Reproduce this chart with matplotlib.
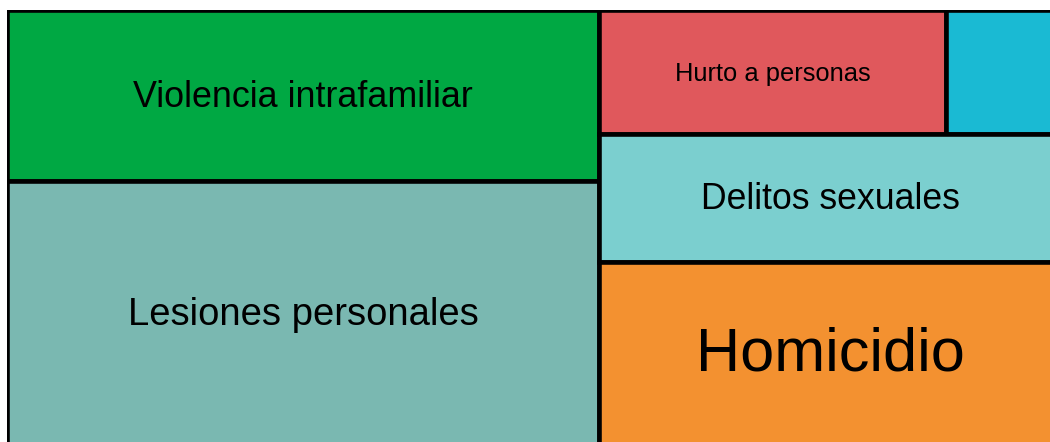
import matplotlib
matplotlib.use("Agg")
import matplotlib.pyplot as plt
import matplotlib.transforms as mtransforms
from matplotlib.patches import Rectangle

labels = ["Violencia intrafamiliar", "Lesiones personales", "Hurto a personas",
          "", "Delitos sexuales", "Homicidio"]
values = [1006, 1551, 426, 143, 587, 841]
colors = ["#00A843", "#7AB8B1", "#E0585C", "#1ABAD3", "#7BCFCF", "#F39130"]
font_sizes = [25.8, 27.5, 18.4, 18, 25.7, 44]

# tile arrangement: columns -> rows -> cells (indices into the lists above)
layout = [
    [[0], [1]],
    [[2, 3], [4], [5]],
]

fig = plt.figure(figsize=(10.5, 4.42), dpi=100)
ax = fig.add_axes([7 / 1050, -3 / 442, 1055 / 1050, 435 / 442])
total = sum(values)
ax.set_xlim(0, 1)
ax.set_ylim(1, 0)
ax.axis("off")
# nudge labels a little below the geometric centre
text_tr = mtransforms.offset_copy(ax.transData, fig=fig, x=0, y=-2, units="dots")

# slice-and-dice layout
x0 = 0.0
for col in layout:
    col_sum = sum(values[i] for row in col for i in row)
    w = col_sum / total
    y0 = 0.0
    for row in col:
        row_sum = sum(values[i] for i in row)
        h = row_sum / col_sum
        cx = x0
        for i in row:
            cw = w * values[i] / row_sum
            ax.add_patch(Rectangle((cx, y0), cw, h, facecolor=colors[i],
                                   edgecolor="black", linewidth=3.3))
            if labels[i]:
                ax.text(cx + cw / 2, y0 + h / 2, labels[i], ha="center",
                        va="center", fontsize=font_sizes[i], transform=text_tr,
                        family="Liberation Sans", color="black")
            cx += cw
        y0 += h
    x0 += w

fig.savefig("out.png", dpi=100)
